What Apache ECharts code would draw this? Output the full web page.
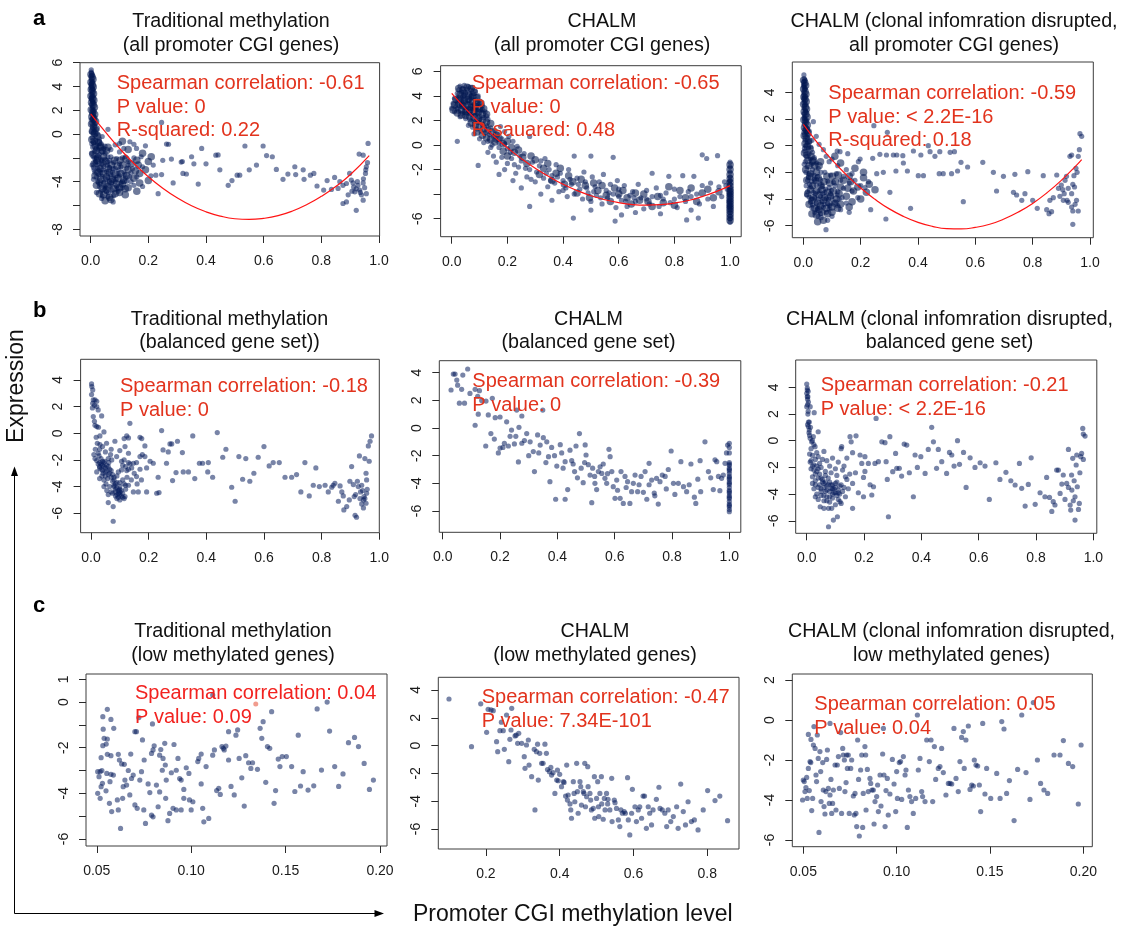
<!DOCTYPE html>
<html><head><meta charset="utf-8">
<script src="https://cdn.jsdelivr.net/npm/echarts@6/dist/echarts.min.js"></script>
<style>html,body{margin:0;padding:0;background:#fff}#c{width:1123px;height:933px}</style>
</head><body><div id="c"></div>
<script>
// ---------------- DATA ----------------
const titlesA = [["Traditional methylation","(all promoter CGI genes)"],["CHALM","(all promoter CGI genes)"],["CHALM (clonal infomration disrupted,","all promoter CGI genes)"]];
const titlesB = [["Traditional methylation","(balanced gene set))"],["CHALM","(balanced gene set)"],["CHALM (clonal infomration disrupted,","balanced gene set)"]];
const titlesC = [["Traditional methylation","(low methylated genes)"],["CHALM","(low methylated genes)"],["CHALM (clonal infomration disrupted,","low methylated genes)"]];
const statsA = [["Spearman correlation: -0.61","P value: 0","R-squared: 0.22"],["Spearman correlation: -0.65","P value: 0","R-sauared: 0.48"],["Spearman correlation: -0.59","P value: < 2.2E-16","R-squared: 0.18"]];
const statsB = [["Spearman correlation: -0.18","P value: 0"],["Spearman correlation: -0.39","P value: 0"],["Spearman correlation: -0.21","P value: < 2.2E-16"]];
const statsC = [["Spearman correlation: 0.04","P value: 0.09"],["Spearman correlation: -0.47","P value: 7.34E-101"],["Spearman correlation: 0.05","P value: 0.04"]];

const xTicks01 = [0,0.2,0.4,0.6,0.8,1.0];
const xTicksLow = [0.05,0.10,0.15,0.20];
const xTicksC2 = [0.2,0.4,0.6,0.8];
const yTicksA1 = [-8,-6,-4,-2,0,2,4,6], yLabelsA1 = [-8,-4,0,2,4,6];
const yTicksA2 = [-6,-4,-2,0,2,4,6], yLabelsA2 = [-6,-2,0,2,4,6];
const yTicks64 = [-6,-4,-2,0,2,4];
const yTicksC1 = [-6,-5,-4,-3,-2,-1,0,1], yLabelsC1 = [-6,-4,-2,0,1];
const yTicksC3 = [-6,-4,-2,0,2];

const fitA1 = [[0,1.70],[0.05,0.21],[0.1,-1.20],[0.15,-2.47],[0.2,-3.58],[0.25,-4.54],[0.3,-5.35],[0.35,-6.02],[0.4,-6.53],[0.45,-6.89],[0.5,-7.11],[0.55,-7.17],[0.6,-7.08],[0.65,-6.85],[0.7,-6.46],[0.75,-5.92],[0.8,-5.23],[0.85,-4.40],[0.9,-3.41],[0.966,-1.80]];
const fitA2 = [[0,4.2],[0.05,2.95],[0.1,1.8],[0.15,0.74],[0.2,-0.23],[0.25,-1.11],[0.3,-1.9],[0.35,-2.59],[0.4,-3.2],[0.45,-3.71],[0.5,-4.13],[0.55,-4.46],[0.6,-4.7],[0.65,-4.85],[0.7,-4.9],[0.75,-4.86],[0.8,-4.73],[0.85,-4.52],[0.9,-4.2],[0.95,-3.8],[1.0,-3.31]];
const fitA3 = [[0,1.59],[0.05,0.19],[0.1,-1.07],[0.15,-2.19],[0.2,-3.18],[0.25,-4.02],[0.3,-4.74],[0.35,-5.31],[0.4,-5.75],[0.45,-6.05],[0.5,-6.22],[0.55,-6.24],[0.6,-6.13],[0.65,-5.89],[0.7,-5.5],[0.75,-4.98],[0.8,-4.33],[0.85,-3.53],[0.9,-2.6],[0.95,-1.53],[0.971,-1.04]];

const ptsA1 = [[0.002,5.4],[0.003,5.1],[0.002,4.9],[0.004,4.7],[0.002,4.5],[0.005,4.3],[0.003,4.1],[0.001,3.9],[0.004,3.7],[0.006,3.5],[0.002,3.3],[0.005,3.1],[0.003,2.9],[0.007,2.7],[0.002,2.5],[0.006,2.3],[0.004,2.1],[0.008,1.9],[0.003,1.7],[0.009,1.5],[0.005,1.3],[0.010,1.1],[0.004,0.9],[0.012,0.7],[0.006,0.5],[0.014,0.3],[0.008,0.1],[0.016,-0.1],[0.005,-0.3],[0.018,-0.5],[0.010,-0.7],[0.022,-0.9],[0.007,-1.1],[0.026,-1.3],[0.013,-1.5],[0.030,-1.7],[0.009,-1.9],[0.035,-2.1],[0.018,-2.3],[0.040,-2.5],
[0.006,4.95],[0.007,4.4],[0.008,3.8],[0.009,3.2],[0.011,2.6],[0.012,2.0],[0.014,1.4],[0.016,0.9],[0.020,0.4],[0.024,0.0],[0.030,-0.4],[0.036,-0.8],[0.045,-1.2],[0.050,-1.6],[0.060,-1.9],
[0.001,4.2],[0.001,3.0],[0.002,1.2],[0.003,0.2],[0.004,-0.8],[0.003,-1.6],[0.002,5.2],[0.004,4.0],[0.006,2.8],[0.01,1.7],
[0.02,-2.0],[0.05,-2.1],[0.07,-1.9],[0.09,-2.05],[0.11,-2.0],[0.015,-2.4],[0.03,-2.45],[0.06,-2.35],[0.08,-2.4],[0.10,-2.5],[0.13,-2.3],
[0.01,-2.8],[0.025,-2.85],[0.045,-2.75],[0.065,-2.8],[0.085,-2.9],[0.105,-2.75],[0.125,-2.85],[0.015,-3.2],[0.035,-3.25],[0.055,-3.15],[0.075,-3.2],[0.095,-3.3],[0.115,-3.15],[0.14,-3.25],
[0.02,-3.6],[0.04,-3.55],[0.06,-3.65],[0.08,-3.6],[0.10,-3.5],[0.12,-3.7],[0.025,-4.0],[0.045,-4.05],[0.065,-3.95],[0.085,-4.0],[0.105,-4.1],[0.125,-3.95],
[0.03,-4.4],[0.05,-4.45],[0.07,-4.35],[0.09,-4.4],[0.11,-4.5],[0.035,-4.8],[0.055,-4.85],[0.075,-4.75],[0.095,-4.8],[0.04,-5.2],[0.06,-5.25],[0.08,-5.15],[0.078,-5.7],[0.038,-5.4],
[0.03,-0.6],[0.04,-0.2],[0.06,0.4],[0.05,-1.0],[0.07,-1.3],[0.085,-0.9],[0.10,-1.5],[0.12,-1.9],[0.13,-2.6],[0.15,-2.0],[0.145,-2.9],[0.16,-3.6],[0.18,-4.4],[0.15,-4.3],[0.02,-4.9],[0.01,-3.8],[0.005,-2.6],
[0.012,-3.0],[0.028,-3.4],[0.042,-3.0],[0.052,-3.8],[0.068,-3.4],[0.072,-4.1],[0.088,-3.8],[0.092,-4.6],[0.032,-4.2],[0.048,-4.6],[0.062,-4.9],[0.022,-2.6],[0.038,-2.2],[0.058,-2.6],[0.078,-2.9],[0.098,-3.0],[0.118,-3.4],[0.135,-3.6],[0.14,-4.0],[0.11,-4.0],[0.018,-1.2],[0.025,-1.8],[0.04,-1.5],[0.065,-2.2],[0.014,-2.0],[0.03,-3.0],
[0.246,0.98],[0.19,-0.98],[0.263,-0.84],[0.27,-0.85],[0.35,-1.9],[0.385,-1.2],[0.434,-1.77],[0.442,-1.75],[0.535,-1.0],[0.598,-1.0],[0.61,-1.8],[0.63,-1.9],[0.575,-2.6],[0.55,-3.0],[0.517,-3.45],[0.508,-3.45],[0.49,-3.9],[0.477,-4.3],[0.448,-3.0],[0.40,-2.5],[0.358,-2.5],[0.332,-3.35],[0.318,-2.3],[0.314,-2.35],[0.28,-2.1],[0.25,-2.2],[0.32,-3.3],[0.286,-4.1],[0.373,-4.2],[0.234,-5.0],[0.209,-3.5],[0.226,-3.45],[0.246,-3.4],[0.217,-2.6],[0.18,-2.74],[0.175,-1.9],[0.159,-1.2],[0.136,-0.64],[0.15,-0.85],[0.115,-1.2],[0.10,-0.8],
[0.708,-2.74],[0.644,-2.97],[0.667,-3.8],[0.684,-3.36],[0.711,-3.4],[0.737,-3.0],[0.74,-3.8],[0.762,-3.45],[0.774,-3.3],[0.785,-4.36],[0.82,-3.9],[0.808,-4.7],[0.835,-4.65],[0.846,-3.64],[0.864,-4.0],[0.858,-4.56],[0.875,-4.3],[0.887,-4.15],[0.904,-3.86],[0.898,-3.3],[0.91,-4.1],[0.875,-5.83],[0.887,-5.7],[0.921,-6.4],[0.931,-1.68],[0.945,-1.77],[0.962,-0.78],[0.956,-2.75],[0.953,-3.3],[0.946,-3.75],[0.945,-4.1],[0.933,-4.7],[0.916,-4.85],[0.927,-4.3],[0.912,-4.45],[0.939,-5.1],[0.956,-5.0],[0.95,-4.5],[0.921,-4.6],[0.906,-4.8],[0.893,-5.1],[0.945,-5.55],[0.954,-3.0],[0.96,-2.4],[0.925,-4.0],[0.935,-4.9]];
const denseA1 = [[0.001,5.0],[0.005,4.8],[0.008,4.6],[0.001,4.35],[0.006,4.15],[0.009,3.95],[0.002,3.75],[0.006,3.6],[0.01,3.4],[0.001,3.2],[0.007,3.0],[0.011,2.85],[0.003,2.65],[0.009,2.45],[0.013,2.25],[0.002,2.05],[0.008,1.85],[0.014,1.65],[0.004,1.45],[0.011,1.25],[0.017,1.05],[0.003,0.85],[0.01,0.65],[0.019,0.45],[0.006,0.25],[0.014,0.05],[0.024,-0.15],[0.004,-0.45],[0.012,-0.6],[0.027,-0.7],[0.016,-1.0],[0.033,-1.1],[0.02,-1.4],[0.04,-1.4],[0.008,-1.7],[0.025,-2.0],[0.045,-1.9],[0.055,-1.4],[0.035,-1.0],[0.06,-1.1],
[0.012,-2.5],[0.022,-2.2],[0.032,-2.9],[0.042,-2.5],[0.052,-2.3],[0.062,-2.9],[0.072,-2.6],[0.082,-2.2],[0.092,-2.7],[0.102,-2.2],[0.112,-2.6],[0.122,-2.1],
[0.015,-3.5],[0.025,-3.2],[0.035,-3.8],[0.045,-3.3],[0.055,-3.6],[0.065,-3.2],[0.075,-3.8],[0.085,-3.4],[0.095,-3.7],[0.105,-3.3],[0.115,-3.9],[0.125,-3.5],
[0.02,-4.3],[0.03,-4.0],[0.04,-4.6],[0.05,-4.2],[0.06,-4.4],[0.07,-4.0],[0.08,-4.6],[0.09,-4.2],[0.1,-4.5],[0.11,-4.2],[0.12,-4.6],
[0.03,-5.0],[0.045,-5.1],[0.055,-4.7],[0.065,-5.3],[0.085,-5.0],[0.1,-4.9],[0.05,-5.6],[0.07,-5.5],
[0.14,-2.5],[0.155,-3.1],[0.165,-2.6],[0.17,-3.3],[0.19,-3.0],[0.2,-2.3],[0.13,-3.0],[0.15,-3.7],[0.17,-4.1],[0.2,-3.9],[0.16,-4.8],[0.13,-4.5],[0.12,-5.1],[0.18,-1.6],[0.21,-1.9],[0.11,-0.6],[0.13,-1.3],[0.16,-2.2]];

const ptsA2 = [[0.03,4.8],[0.045,4.85],[0.06,4.75],[0.075,4.7],[0.025,4.5],[0.04,4.6],[0.055,4.55],[0.07,4.45],[0.085,4.4],[0.02,4.2],[0.035,4.3],[0.05,4.25],[0.065,4.2],[0.08,4.15],[0.095,4.0],
[0.01,3.8],[0.025,3.9],[0.04,3.95],[0.055,3.85],[0.07,3.8],[0.085,3.7],[0.1,3.6],[0.005,3.4],[0.02,3.5],[0.035,3.55],[0.05,3.45],[0.065,3.4],[0.08,3.35],[0.095,3.3],[0.11,3.2],[0.0,3.0],[0.015,3.1],[0.03,3.15],[0.045,3.05],[0.06,3.0],[0.075,2.95],[0.09,2.9],[0.105,2.8],[0.12,2.7],[0.01,2.7],[0.025,2.75],[0.04,2.6],[0.055,2.55],[0.07,2.5],[0.085,2.45],[0.1,2.35],[0.115,2.25],[0.13,2.1],[0.03,2.3],[0.05,2.15],[0.065,2.05],[0.08,1.95],[0.095,1.85],[0.11,1.7],[0.125,1.55],[0.14,1.4],[0.06,1.6],[0.075,1.45],[0.09,1.3],[0.105,1.15],[0.12,1.0],[0.135,0.85],[0.15,0.7],
[0.045,4.05],[0.06,3.6],[0.035,3.3],[0.075,3.15],[0.05,2.85],[0.09,2.6],[0.02,2.95],[0.065,2.7],[0.04,3.7],[0.07,4.0],[0.11,2.9],[0.125,2.35],[0.1,2.05],[0.085,3.0],
[0.02,0.3],[0.08,0.9],[0.1,0.5],[0.115,0.2],[0.13,0.3],[0.145,0.0],[0.16,0.4],[0.17,-0.2],[0.155,1.2],[0.165,0.9],[0.18,0.5],[0.19,0.1],[0.2,-0.3],[0.175,1.5],[0.19,1.1],[0.205,0.7],[0.22,0.3],[0.235,-0.1],[0.095,-1.66],[0.13,-0.6],[0.15,-0.9],[0.16,-1.4],[0.18,-1.0],[0.19,-2.0],[0.2,-1.5],[0.215,-1.1],[0.23,-2.3],[0.24,-1.8],[0.25,-1.3],[0.26,-0.7],[0.27,-2.6],[0.28,-2.0],[0.28,0.7],[0.29,-1.4],[0.3,-3.0],[0.305,-2.2],[0.315,-1.7],[0.33,-2.7],[0.335,-1.1],[0.345,-3.4],[0.35,-2.0],[0.36,-2.5],[0.37,-3.1],[0.375,-1.6],[0.385,-3.8],[0.39,-2.3],[0.4,-2.9],[0.41,-3.5],[0.415,-4.2],[0.42,-2.0],[0.43,-3.2],[0.44,-0.9],[0.44,-4.0],[0.45,-2.7],[0.46,-3.6],[0.47,-4.4],[0.475,-2.2],[0.48,-3.0],[0.49,-3.9],[0.5,-0.9],[0.5,-4.6],[0.505,-2.6],[0.515,-3.4],[0.52,-4.1],[0.53,-3.0],[0.54,-4.8],[0.545,-2.4],[0.555,-3.7],[0.56,-4.3],[0.57,-3.2],[0.58,-1.0],[0.58,-4.0],[0.59,-5.1],[0.595,-2.9],[0.6,-3.6],[0.61,-4.5],[0.62,-3.3],[0.63,-5.0],[0.64,-4.1],[0.65,-3.8],[0.66,-4.6],[0.67,-3.2],[0.68,-4.3],[0.69,-5.2],[0.7,-3.7],[0.71,-4.8],[0.72,-2.3],[0.72,-4.2],[0.735,-3.5],[0.745,-5.0],[0.76,-4.4],[0.77,-3.9],[0.78,-2.55],[0.785,-4.7],[0.8,-3.6],[0.81,-5.1],[0.82,-4.2],[0.83,-2.5],[0.84,-4.6],[0.85,-3.8],[0.86,-5.3],[0.87,-2.55],[0.88,-4.0],[0.89,-4.8],[0.9,-0.8],[0.9,-3.3],[0.916,-1.1],[0.92,-4.4],[0.93,-3.1],[0.94,-5.0],[0.955,-0.87],[0.96,-3.4],[0.97,-4.2],[0.98,-3.0],
[0.14,-0.2],[0.17,0.2],[0.21,-0.6],[0.225,-1.6],[0.245,-0.9],[0.265,-1.9],[0.285,-2.8],[0.32,-1.3],[0.34,-2.3],[0.355,-2.9],[0.38,-2.6],[0.4,-3.7],[0.425,-2.8],[0.455,-3.2],[0.485,-3.5],[0.51,-3.8],[0.535,-4.3],[0.565,-3.9],[0.6,-4.2],[0.625,-4.6],[0.655,-4.3],[0.7,-4.4],[0.75,-4.1],[0.8,-4.4],[0.86,-4.2],
[0.28,-5.0],[0.437,-5.95],[0.587,-6.2],[0.61,-5.7],[0.844,-6.1],[0.886,-5.95],[0.5,-5.3],[0.66,-5.5],[0.75,-5.6],[0.36,-4.5],[0.32,-4.0],[0.25,-3.5],[0.22,-2.9],[0.17,-2.4],
[1,-1.4],[1,-1.8],[1,-2.2],[1,-2.6],[1,-2.9],[1,-3.2],[1,-3.5],[1,-3.7],[1,-3.9],[1,-4.1],[1,-4.3],[1,-4.5],[1,-4.7],[1,-4.9],[1,-5.1],[1,-5.3],[1,-5.5],[1,-5.8],[1,-6.0],[1,-6.3],[0.998,-3.0],[0.998,-4.0],[0.998,-5.0],[0.997,-4.6],[0.99,-3.6],[0.985,-3.3]];
const denseA2 = [[0.025,4.6],[0.04,4.45],[0.055,4.7],[0.07,4.6],[0.08,4.3],[0.03,4.1],[0.045,4.2],[0.06,4.05],[0.075,3.95],[0.09,3.85],[0.015,3.7],[0.03,3.75],[0.045,3.6],[0.06,3.7],[0.075,3.55],[0.09,3.45],[0.105,3.4],[0.01,3.25],[0.025,3.35],[0.04,3.2],[0.055,3.25],[0.07,3.1],[0.085,3.15],[0.1,3.0],[0.115,2.95],[0.005,2.85],[0.02,2.6],[0.035,2.85],[0.05,2.7],[0.065,2.85],[0.08,2.7],[0.095,2.65],[0.11,2.5],[0.125,2.5],[0.035,2.45],[0.05,2.4],[0.065,2.3],[0.08,2.25],[0.095,2.1],[0.11,2.0],[0.125,1.85],[0.14,1.75],[0.07,1.8],[0.085,1.65],[0.1,1.55],[0.115,1.35],[0.13,1.2],[0.145,1.05],[0.16,0.8],[0.09,1.05],[0.11,0.8],[0.125,0.6],[0.14,0.45],[0.155,0.25],[0.17,0.55],[0.185,0.1],[0.2,0.3],[0.215,-0.2],[0.185,-0.5],[0.2,-0.9],[0.225,-0.6],[0.24,-0.4],[0.255,-1.0],[0.27,-1.5],[0.285,-0.9],[0.3,-1.2],[0.315,-2.4],[0.33,-1.9],[0.345,-1.5],[0.36,-2.9],[0.375,-2.3],[0.39,-1.9],[0.405,-3.2],[0.42,-2.5],[0.435,-3.0],[0.45,-3.9],[0.465,-2.8],[0.48,-3.3],[0.495,-4.3],[0.51,-3.1],[0.525,-3.7],[0.54,-3.3],[0.555,-4.1],[0.57,-4.6],[0.585,-3.5],[0.6,-4.0],[0.615,-3.7],[0.63,-4.3],[0.645,-4.8],[0.66,-3.9],[0.675,-4.5],[0.69,-4.0],[0.705,-4.6],[0.72,-5.0],[0.74,-4.2],[0.76,-4.7],[0.78,-3.4],[0.8,-4.9],[0.82,-3.7],[0.84,-4.3],[0.86,-3.5],[0.88,-4.6],[0.9,-3.9],[0.92,-3.6],[0.94,-4.3],[0.96,-3.8],
[1,-1.6],[1,-2.0],[1,-2.4],[1,-2.75],[1,-3.05],[1,-3.35],[1,-3.6],[1,-3.8],[1,-4.0],[1,-4.2],[1,-4.4],[1,-4.6],[1,-4.8],[1,-5.0],[1,-5.2],[1,-5.4],[1,-5.65],[1,-5.9],[1,-6.15]];

const ptsA3 = [[0.002,5.3],[0.003,5.0],[0.002,4.8],[0.004,4.6],[0.002,4.4],[0.005,4.2],[0.003,4.0],[0.001,3.8],[0.004,3.6],[0.006,3.4],[0.002,3.2],[0.005,3.0],[0.003,2.8],[0.007,2.6],[0.002,2.4],[0.006,2.2],[0.004,2.0],[0.008,1.8],[0.003,1.6],[0.009,1.4],[0.005,1.2],[0.011,1.0],[0.004,0.8],[0.013,0.6],[0.006,0.4],[0.015,0.2],[0.008,0.0],[0.018,-0.2],[0.005,-0.4],[0.02,-0.6],[0.01,-0.8],[0.024,-1.0],[0.007,-1.2],[0.028,-1.4],[0.013,-1.6],[0.032,-1.8],[0.009,-2.0],[0.037,-2.2],[0.018,-2.4],[0.042,-2.6],
[0.006,4.9],[0.007,4.3],[0.008,3.7],[0.009,3.1],[0.011,2.5],[0.012,1.9],[0.014,1.3],[0.017,0.8],[0.021,0.3],[0.026,-0.1],[0.032,-0.5],[0.038,-0.9],[0.046,-1.3],[0.052,-1.7],[0.062,-2.0],[0.001,4.5],[0.002,3.5],[0.003,2.1],[0.002,1.0],[0.004,-0.2],[0.003,-1.4],
[0.035,1.8],[0.02,1.1],[0.045,0.7],[0.03,0.4],[0.055,0.1],[0.07,-0.3],[0.08,-0.8],[0.09,-1.2],[0.1,-1.0],
[0.02,-2.1],[0.05,-2.3],[0.075,-2.0],[0.095,-2.2],[0.115,-2.1],[0.015,-2.6],[0.03,-2.7],[0.06,-2.55],[0.085,-2.65],[0.105,-2.75],[0.13,-2.6],
[0.01,-3.0],[0.025,-3.1],[0.045,-2.95],[0.065,-3.05],[0.09,-3.15],[0.11,-3.0],[0.14,-3.2],[0.015,-3.45],[0.035,-3.5],[0.055,-3.4],[0.075,-3.5],[0.095,-3.6],[0.12,-3.45],
[0.02,-3.85],[0.04,-3.9],[0.06,-3.8],[0.08,-3.95],[0.1,-3.85],[0.125,-4.0],[0.025,-4.25],[0.045,-4.3],[0.065,-4.2],[0.085,-4.35],[0.11,-4.25],
[0.03,-4.65],[0.05,-4.7],[0.07,-4.6],[0.09,-4.75],[0.12,-4.5],[0.04,-5.0],[0.06,-5.1],[0.08,-5.0],[0.052,-5.3],[0.062,-5.4],[0.079,-6.3],[0.1,-5.3],
[0.012,-3.7],[0.028,-4.0],[0.042,-3.6],[0.052,-4.0],[0.068,-3.6],[0.072,-4.4],[0.088,-4.0],[0.092,-4.5],[0.032,-4.45],[0.048,-4.8],[0.022,-2.9],[0.038,-2.5],[0.058,-2.85],[0.078,-3.25],[0.098,-3.35],[0.118,-3.7],[0.135,-3.9],[0.15,-4.3],[0.14,-2.3],[0.16,-2.8],[0.17,-3.4],[0.18,-2.6],[0.19,-3.9],[0.2,-3.0],[0.12,-1.5],[0.15,-1.8],[0.17,-2.1],[0.13,-4.8],[0.16,-5.0],[0.085,-5.6],
[0.246,1.5],[0.293,1.0],[0.326,-0.7],[0.349,-1.3],[0.128,-0.45],[0.118,-0.4],[0.155,-0.6],[0.198,-1.0],[0.192,-1.2],[0.242,-0.95],[0.267,-0.65],[0.29,-0.7],[0.314,-0.7],[0.347,-0.75],[0.384,-0.4],[0.41,-0.7],[0.436,0.0],[0.442,-0.45],[0.459,-0.8],[0.476,-0.45],[0.512,-0.5],[0.527,-0.45],
[0.256,-2.1],[0.279,-2.0],[0.323,-1.9],[0.363,-1.9],[0.401,-2.25],[0.419,-2.25],[0.474,-2.1],[0.488,-2.1],[0.517,-2.1],[0.538,-1.9],[0.573,-1.6],[0.55,-1.25],[0.626,-1.25],[0.663,-2.0],[0.698,-2.3],[0.738,-2.15],[0.783,-1.95],[0.837,-2.25],
[0.302,-3.5],[0.215,-3.15],[0.227,-2.7],[0.374,-4.7],[0.235,-4.8],[0.288,-5.5],[0.558,-4.2],[0.674,-3.4],[0.733,-3.5],[0.744,-3.7],[0.773,-3.6],[0.762,-4.1],[0.8,-4.1],[0.816,-4.7],[0.86,-4.1],[0.849,-4.8],[0.857,-5.1],[0.872,-3.9],[0.884,-2.2],[0.9,-2.95],[0.913,-2.6],[0.918,-2.3],[0.924,-3.2],[0.936,-3.6],[0.944,-2.25],[0.94,-2.9],[0.951,-1.7],[0.959,-0.8],[0.963,-0.3],[0.965,0.9],[0.971,0.7],[0.93,-0.8],[0.936,-0.7],[0.907,-4.1],[0.924,-4.25],[0.936,-4.6],[0.948,-4.4],[0.953,-4.1],[0.94,-4.9],[0.94,-5.9],[0.959,-4.9],[0.895,-3.8],[0.91,-3.6],[0.92,-4.1],[0.866,-4.95],[0.89,-3.2],[0.905,-3.3],[0.946,-3.1],[0.955,-2.0]];
const denseA3 = [[0.001,4.9],[0.005,4.7],[0.008,4.5],[0.001,4.25],[0.006,4.05],[0.009,3.85],[0.002,3.65],[0.006,3.5],[0.01,3.3],[0.001,3.1],[0.007,2.9],[0.011,2.75],[0.003,2.55],[0.009,2.35],[0.013,2.15],[0.002,1.95],[0.008,1.75],[0.014,1.55],[0.004,1.35],[0.011,1.15],[0.017,0.95],[0.003,0.75],[0.01,0.55],[0.019,0.35],[0.006,0.15],[0.014,-0.05],[0.024,-0.25],[0.004,-0.55],[0.012,-0.7],[0.027,-0.8],[0.016,-1.1],[0.033,-1.2],[0.02,-1.5],[0.04,-1.5],[0.008,-1.8],[0.025,-2.1],[0.045,-2.0],[0.055,-1.5],[0.035,-1.1],[0.06,-1.2],
[0.012,-2.6],[0.022,-2.3],[0.032,-3.0],[0.042,-2.6],[0.052,-2.4],[0.062,-3.0],[0.072,-2.7],[0.082,-2.3],[0.092,-2.8],[0.102,-2.3],[0.112,-2.7],[0.122,-2.2],
[0.015,-3.6],[0.025,-3.3],[0.035,-3.9],[0.045,-3.4],[0.055,-3.7],[0.065,-3.3],[0.075,-3.9],[0.085,-3.5],[0.095,-3.8],[0.105,-3.4],[0.115,-4.0],[0.125,-3.6],
[0.02,-4.4],[0.03,-4.1],[0.04,-4.7],[0.05,-4.3],[0.06,-4.5],[0.07,-4.1],[0.08,-4.7],[0.09,-4.3],[0.1,-4.6],[0.11,-4.3],[0.12,-4.7],
[0.03,-5.1],[0.045,-5.2],[0.055,-4.8],[0.065,-5.0],[0.085,-5.1],[0.1,-5.0],[0.05,-5.7],[0.07,-5.6],
[0.14,-2.6],[0.155,-3.2],[0.165,-2.7],[0.175,-3.4],[0.19,-3.1],[0.21,-2.4],[0.13,-3.1],[0.15,-3.8],[0.17,-4.2],[0.2,-4.0],[0.16,-4.6],[0.13,-4.4],[0.22,-3.5],[0.18,-1.7],[0.21,-2.0],[0.11,-0.8],[0.13,-1.3],[0.16,-2.3],[0.23,-2.9],[0.25,-3.3]];

const ptsB1 = [[0.002,3.7],[0.003,3.5],[0.006,3.25],[0.002,2.9],[0.008,2.5],[0.006,2.25],[0.012,2.1],[0.014,2.5],[0.02,2.4],[0.02,2.0],[0.008,1.25],[0.025,1.75],[0.037,1.3],[0.014,0.6],[0.02,0.5],[0.026,0.45],[0.045,0.1],[0.031,-0.2],[0.022,-0.75],[0.031,-0.85],[0.03,-1.2],[0.014,-1.9],[0.02,-2.05],[0.03,-2.2],
[0.025,-1.5],[0.04,-1.0],[0.05,-1.4],[0.054,-0.75],[0.06,-1.9],[0.07,-1.2],[0.083,-0.6],[0.089,-1.75],[0.1,-1.3],[0.118,-1.0],[0.13,-1.5],[0.106,-2.1],[0.106,-2.75],[0.124,-2.8],[0.141,-2.6],[0.147,-2.25],[0.158,-2.2],[0.17,-1.75],[0.187,-1.75],[0.178,-1.6],[0.158,-3.25],[0.147,-4.4],[0.164,-4.4],[0.193,-4.4],[0.118,-4.75],[0.1,-5.0],[0.06,-5.2],[0.077,-5.5],[0.077,-6.6],
[0.03,-2.6],[0.035,-2.3],[0.04,-2.8],[0.045,-2.5],[0.05,-2.9],[0.055,-2.4],[0.06,-3.1],[0.065,-2.7],[0.07,-3.3],[0.038,-3.2],[0.045,-3.5],[0.052,-3.8],[0.058,-3.4],[0.048,-2.1],[0.062,-2.2],[0.072,-2.0],[0.068,-1.6],
[0.075,-3.6],[0.08,-3.9],[0.085,-4.2],[0.09,-3.7],[0.095,-4.5],[0.1,-4.0],[0.105,-4.3],[0.11,-4.8],[0.115,-3.8],[0.12,-4.2],[0.085,-4.7],[0.09,-4.9],[0.1,-4.6],[0.11,-3.5],[0.125,-3.3],[0.13,-3.9],[0.135,-2.3],[0.14,-3.5],[0.075,-4.5],[0.08,-3.3],[0.065,-4.0],[0.07,-4.4],[0.055,-4.3],[0.06,-4.6],[0.045,-4.0],[0.09,-3.2],[0.095,-2.9],[0.12,-2.5],[0.115,-2.0],[0.13,-2.2],[0.15,-3.0],[0.16,-3.8],[0.17,-2.7],[0.175,-3.5],
[0.135,0.75],[0.115,-0.4],[0.124,-0.2],[0.13,-0.35],[0.17,-0.3],[0.176,-0.4],[0.187,-0.95],[0.245,0.2],[0.25,-1.25],[0.274,-0.8],[0.28,-0.8],[0.268,-1.4],[0.3,-0.6],[0.317,-1.45],[0.262,-2.25],[0.295,-2.95],[0.32,-2.9],[0.338,-2.9],[0.283,-3.55],[0.233,-3.3],[0.228,-4.5],[0.236,-4.45],[0.216,-2.25],[0.205,-2.1],[0.193,-2.6],[0.353,-0.2],[0.36,-3.4],[0.376,-2.25],[0.387,-2.25],[0.407,-2.2],[0.405,-2.9],[0.422,-3.3],[0.438,0.05],[0.457,-1.8],[0.468,-1.2],[0.488,-4.05],[0.5,-5.1],[0.513,-1.75],[0.526,-3.45],[0.537,-1.9],[0.551,-3.6],[0.565,-3.0],[0.58,-1.8],[0.6,-1.0],[0.618,-2.45],[0.632,-2.2],[0.653,-2.2],[0.673,-3.3],[0.696,-3.3],[0.713,-3.1],[0.728,-4.4],[0.742,-2.2],[0.757,-4.7],[0.771,-3.9],[0.78,-2.6],[0.792,-4.0],[0.812,-3.9],[0.823,-4.4],[0.835,-4.05],[0.84,-3.9],[0.846,-3.75],[0.858,-5.1],[0.864,-3.95],[0.87,-4.4],[0.875,-4.7],[0.877,-5.75],[0.887,-5.5],[0.896,-5.0],[0.898,-3.6],[0.904,-2.5],[0.91,-3.85],[0.913,-4.75],[0.918,-4.6],[0.924,-3.6],[0.927,-4.0],[0.931,-1.7],[0.935,-4.4],[0.939,-3.9],[0.942,-4.3],[0.945,-5.6],[0.947,-4.75],[0.95,-1.9],[0.954,-3.0],[0.956,-3.5],[0.956,-4.5],[0.958,-4.2],[0.962,-0.95],[0.965,-2.1],[0.968,-0.6],[0.973,-0.2],[0.921,-6.3],[0.916,-6.15],[0.939,-5.3],[0.945,-5.0],[0.933,-4.9],[0.95,-4.9],[0.954,-5.25]];
const denseB1 = [[0.025,-2.3],[0.03,-2.5],[0.035,-2.7],[0.04,-2.4],[0.045,-2.2],[0.05,-2.6],[0.055,-2.8],[0.035,-1.9],[0.04,-2.1],[0.028,-1.7],[0.06,-2.5],[0.065,-3.0],[0.05,-3.2],[0.042,-3.0],[0.03,-3.4],[0.02,-2.9],[0.07,-2.8],[0.075,-3.1],[0.08,-3.5],[0.085,-3.8],[0.09,-4.1],[0.095,-4.3],[0.1,-4.4],[0.105,-4.7],[0.09,-4.6],[0.1,-4.2],[0.11,-4.5],[0.095,-4.8],[0.085,-4.4],[0.08,-4.0],[0.115,-4.9],[0.1,-3.7],[0.12,-3.9],[0.13,-2.7],[0.11,-2.4],[0.01,-1.6],[0.015,-1.2],[0.005,1.9],[0.012,0.9],[0.018,-0.3]];

const ptsB2 = [[0.037,3.9],[0.043,3.9],[0.087,4.27],[0.029,2.75],[0.052,3.1],[0.066,2.8],[0.049,3.47],[0.07,3.83],[0.058,1.8],[0.076,1.8],[0.095,2.5],[0.113,2.8],[0.122,2.3],[0.128,2.7],[0.136,2.0],[0.151,1.95],[0.113,0.2],[0.124,1.0],[0.15,-1.3],[0.159,0.95],[0.168,-0.4],[0.173,2.15],[0.18,-0.8],[0.183,0.75],[0.194,-1.8],[0.21,-1.4],[0.2,0.8],[0.223,0.45],[0.24,-0.15],[0.229,-1.3],[0.235,-0.6],[0.258,1.3],[0.266,0.05],[0.276,0.87],[0.25,-1.15],[0.264,-2.45],[0.276,-1.1],[0.293,-0.4],[0.305,-1.0],[0.316,-1.7],[0.32,-3.15],[0.331,-0.5],[0.34,-1.23],[0.349,1.3],[0.351,-0.7],[0.363,-1.0],[0.369,-2.07],[0.374,-3.88],[0.39,-2.0],[0.398,-2.75],[0.394,-5.15],[0.41,-1.2],[0.415,-1.8],[0.427,-5.15],[0.427,-2.43],[0.436,-4.45],[0.444,-1.6],[0.45,-2.36],[0.46,-3.15],[0.465,-1.3],[0.477,-0.4],[0.483,-2.9],[0.49,-3.95],[0.497,-1.22],[0.5,-1.95],[0.508,-2.65],[0.514,-3.4],[0.52,-5.4],[0.523,-2.9],[0.531,-4.0],[0.537,-4.45],[0.543,-3.15],[0.549,-2.8],[0.555,-3.28],[0.566,-3.64],[0.572,-4.0],[0.58,-1.54],[0.584,-2.07],[0.59,-3.15],[0.595,-4.24],[0.601,-5.08],[0.607,-3.76],[0.619,-5.08],[0.622,-3.15],[0.63,-5.45],[0.636,-3.5],[0.645,-3.88],[0.653,-5.45],[0.659,-4.6],[0.665,-4.0],[0.671,-3.4],[0.685,-4.1],[0.692,-3.5],[0.7,-4.65],[0.706,-3.15],[0.712,-5.15],[0.72,-2.55],[0.729,-3.76],[0.738,-4.7],[0.746,-3.64],[0.752,-5.5],[0.758,-3.88],[0.766,-3.4],[0.776,-3.5],[0.787,-3.0],[0.797,-1.66],[0.805,-4.0],[0.822,-4.0],[0.831,-2.43],[0.84,-4.24],[0.851,-4.6],[0.866,-2.6],[0.878,-5.0],[0.883,-5.45],[0.89,-3.7],[0.898,-2.36],[0.915,-1.0],[0.927,-3.15],[0.944,-4.45],[0.95,-2.3],[0.956,-2.43],[0.962,-3.5],[0.967,-4.53],[0.973,-3.64],[0.979,-3.4],[0.985,-2.55],[0.99,-1.8],[0.994,-1.23],
[0.2,-1.45],[0.215,-1.1],[0.255,-0.6],[0.285,-0.9],[0.3,-2.0],[0.335,-1.8],[0.36,-2.5],[0.38,-1.4],[0.42,-2.9],[0.455,-2.6],[0.47,-3.6],[0.495,-2.5],[0.53,-3.5],[0.56,-2.6],[0.575,-3.3],[0.61,-4.5],[0.64,-4.3],[0.68,-4.6],[0.72,-4.1],[0.74,-4.9],[0.78,-4.4],[0.81,-4.8],[0.86,-4.1],[0.9,-4.6],[0.935,-3.6],
[1,-1.1],[1,-1.4],[1,-1.8],[1,-2.5],[1,-2.7],[1,-2.9],[1,-3.1],[1,-3.3],[1,-3.5],[1,-3.7],[1,-3.9],[1,-4.1],[1,-4.3],[1,-4.5],[1,-4.7],[1,-4.9],[1,-5.1],[1,-5.3],[1,-5.5],[1,-5.7],[1,-5.9],[1,-6.05],[1,-3.0],[1,-4.0],[1,-5.0],[1,-2.6],[1,-3.6],[1,-4.6],[1,-5.6]];

const ptsB3 = [[0.0,4.25],[0.002,3.8],[0.0,3.55],[0.004,3.3],[0.006,2.9],[0.0,2.55],[0.012,2.55],[0.026,2.1],[0.009,1.4],[0.006,1.05],[0.009,0.8],[0.04,0.67],[0.023,0.3],[0.012,0.18],[0.017,-0.08],[0.029,-0.45],[0.035,-0.9],[0.002,3.95],[0.003,3.1],[0.005,2.2],[0.003,1.2],[0.01,0.4],[0.02,0.0],[0.242,1.67],
[0.015,-0.6],[0.02,-1.1],[0.03,-1.4],[0.025,-1.8],[0.04,-1.2],[0.045,-1.7],[0.015,-2.1],[0.035,-2.3],[0.05,-2.0],[0.055,-1.4],[0.06,-0.8],[0.07,-1.5],[0.065,-2.3],[0.08,-1.9],[0.09,-1.3],[0.1,-2.1],[0.11,-1.6],[0.12,-0.6],[0.122,-0.45],[0.13,-1.9],[0.14,-1.3],[0.151,0.3],[0.155,-0.08],[0.172,0.37],[0.16,-0.9],
[0.02,-2.7],[0.03,-3.0],[0.04,-2.8],[0.045,-3.3],[0.05,-3.6],[0.055,-2.9],[0.06,-3.2],[0.065,-3.8],[0.07,-3.4],[0.075,-2.8],[0.08,-3.1],[0.085,-3.6],[0.09,-3.3],[0.095,-3.9],[0.1,-3.5],[0.105,-3.1],[0.11,-3.7],[0.115,-4.0],[0.12,-3.3],[0.125,-3.8],[0.13,-3.5],[0.135,-4.2],[0.14,-2.9],[0.145,-3.6],[0.15,-2.5],[0.16,-3.2],[0.17,-2.4],[0.18,-3.9],[0.035,-4.0],[0.04,-4.4],[0.05,-4.1],[0.06,-4.5],[0.07,-4.2],[0.08,-4.6],[0.09,-4.3],[0.1,-4.8],[0.11,-4.4],[0.12,-4.7],[0.047,-4.95],[0.06,-5.07],[0.076,-5.07],[0.087,-5.07],[0.116,-4.57],[0.025,-3.6],[0.03,-4.2],[0.065,-2.6],[0.085,-2.4],[0.105,-2.6],[0.125,-2.2],[0.135,-2.7],
[0.203,-1.2],[0.192,-1.7],[0.186,-1.07],[0.215,-1.7],[0.203,-2.3],[0.198,-2.75],[0.238,-1.7],[0.25,-1.57],[0.221,-3.3],[0.233,-3.45],[0.227,-4.07],[0.198,-4.2],[0.16,-5.07],[0.107,-5.7],[0.093,-5.95],[0.076,-6.45],
[0.262,-0.08],[0.273,-0.15],[0.277,-1.57],[0.281,-2.9],[0.29,0.3],[0.285,-5.7],[0.3,-2.32],[0.31,-0.95],[0.314,-2.07],[0.323,-2.07],[0.331,-2.65],[0.34,-0.25],[0.349,-0.33],[0.358,-2.4],[0.372,-4.2],[0.378,-1.07],[0.386,-2.0],[0.398,-1.2],[0.413,-2.45],[0.424,-0.65],[0.436,1.0],[0.442,-0.08],[0.453,-2.07],[0.459,-0.65],[0.471,-1.57],[0.488,-2.45],[0.498,-0.88],[0.506,-1.07],[0.514,-1.9],[0.526,0.0],[0.533,-1.77],[0.547,-0.88],[0.556,-3.5],[0.57,-1.28],[0.587,-2.0],[0.605,-1.65],[0.622,-1.9],[0.637,-4.4],[0.66,-1.65],[0.674,-2.9],[0.695,-2.37],[0.712,-3.0],[0.727,-3.32],[0.742,-1.7],[0.75,-3.57],[0.762,-4.9],[0.783,-1.28],[0.773,-3.28],[0.797,-4.77],[0.814,-3.9],[0.831,-4.2],[0.837,-2.75],[0.847,-4.25],[0.855,-5.3],[0.86,-4.57],[0.866,-4.82],[0.872,-2.2],[0.878,-2.2],[0.884,-3.95],[0.89,-3.25],[0.895,-2.57],[0.901,-4.4],[0.907,-3.2],[0.913,-3.5],[0.913,-0.65],[0.919,-4.82],[0.921,-5.2],[0.924,-2.57],[0.928,-1.32],[0.933,-3.0],[0.936,-4.2],[0.94,-1.82],[0.942,-1.07],[0.944,-3.45],[0.948,-5.15],[0.951,-4.7],[0.953,-2.4],[0.956,-1.2],[0.959,-0.95],[0.963,0.92],[0.965,0.5],[0.971,0.35],[0.965,-1.4],[0.936,-5.95],[0.925,-3.7],[0.93,-4.5]];
const denseB3 = [[0.015,-1.5],[0.02,-1.9],[0.025,-2.2],[0.03,-2.5],[0.035,-1.9],[0.04,-2.1],[0.045,-2.5],[0.05,-2.8],[0.055,-3.1],[0.06,-3.5],[0.065,-3.1],[0.07,-3.7],[0.075,-3.3],[0.08,-3.8],[0.085,-3.3],[0.09,-4.0],[0.095,-3.6],[0.1,-3.9],[0.105,-4.1],[0.11,-3.9],[0.115,-3.4],[0.1,-3.2],[0.09,-3.6],[0.08,-4.2],[0.07,-4.5],[0.06,-4.1],[0.05,-3.8],[0.04,-3.5],[0.03,-3.3],[0.02,-3.2],[0.01,-1.0],[0.012,-1.6],[0.008,0.6],[0.006,1.4],[0.004,2.0],[0.002,3.3],[0.005,3.7],[0.003,2.7],[0.013,1.0],[0.025,-0.3]];

const ptsC1 = [[0.0556,-0.32],[0.0532,-0.64],[0.0575,-0.76],[0.059,-1.15],[0.0534,-1.19],[0.0556,-1.62],[0.0539,-1.59],[0.055,-1.84],[0.0532,-1.91],[0.0523,-2.44],[0.0556,-2.29],[0.0575,-2.35],[0.0614,-2.29],[0.062,-2.54],[0.0632,-2.71],[0.0646,-2.73],[0.068,-2.28],[0.0702,-1.3],[0.071,-1.3],[0.0723,-0.68],[0.0742,-1.66],[0.0751,-2.54],[0.0737,-3.05],[0.079,-2.25],[0.0798,-2.1],[0.0795,-0.96],[0.0804,-1.92],[0.0833,-2.33],[0.0839,-2.08],[0.0847,-2.99],[0.0851,-2.47],[0.0863,-2.76],[0.0868,-3.42],[0.086,-1.81],[0.0909,-1.86],[0.0895,-3.1],[0.0921,-2.99],[0.093,-2.47],[0.0947,-3.42],[0.0939,-3.35],[0.0961,-4.22],[0.0974,-2.88],[0.0988,-3.13],[0.0991,-4.29],[0.1,-4.73],[0.1009,-4.37],[0.1035,-2.61],[0.104,-2.47],[0.1053,-2.28],[0.1053,-3.59],[0.1079,-2.83],[0.1061,-4.66],[0.1093,-5.1],[0.1067,-5.25],[0.1114,-2.33],[0.1123,-2.1],[0.1114,0.31],[0.1135,-3.88],[0.1146,-3.78],[0.1154,-4.05],[0.1163,-1.95],[0.117,-2.03],[0.1184,-1.93],[0.1175,-2.1],[0.1198,-1.3],[0.1198,-2.54],[0.1211,-3.7],[0.1228,-4.07],[0.1237,-1.45],[0.1246,-1.22],[0.1254,-2.47],[0.1268,-3.32],[0.1281,-4.56],[0.1289,-2.35],[0.1304,-2.66],[0.1316,-2.91],[0.1325,-2.66],[0.1351,-2.95],[0.1365,-1.15],[0.1374,-1.59],[0.1381,-0.86],[0.1395,-3.52],[0.1404,-1.95],[0.1416,-2.03],[0.1426,-0.42],[0.1439,-4.44],[0.1447,-3.88],[0.1461,-2.5],[0.147,-2.83],[0.1482,-2.39],[0.1504,-2.39],[0.1532,-2.83],[0.1549,-3.92],[0.1567,-1.45],[0.1579,-3.68],[0.1593,-3.05],[0.1619,-3.86],[0.1649,-3.67],[0.1667,-0.3],[0.169,-2.98],[0.172,0.0],[0.1733,-1.27],[0.176,-2.83],[0.1781,-3.7],[0.1804,-3.15],[0.1833,-1.78],[0.1865,-1.55],[0.1886,-1.95],[0.1916,-2.69],[0.1944,-3.83],[0.1965,-3.42],
[0.0505,-3.05],[0.0518,-3.05],[0.0512,-3.27],[0.0527,-3.0],[0.0553,-3.13],[0.0575,-3.17],[0.0588,-3.2],[0.053,-3.56],[0.0523,-3.71],[0.0505,-4.0],[0.0518,-4.22],[0.0549,-3.89],[0.057,-3.49],[0.0567,-4.44],[0.0579,-4.8],[0.0609,-4.29],[0.0614,-4.73],[0.0626,-5.54],[0.0637,-4.22],[0.064,-3.71],[0.0649,-3.42],[0.0658,-3.64],[0.0667,-3.0],[0.0675,-4.07],[0.0684,-3.35],[0.0693,-3.2],[0.0702,-4.51],[0.0714,-4.66],[0.0728,-3.42],[0.0749,-4.73],[0.0758,-5.32],[0.0772,-3.59],[0.0781,-3.97],[0.079,-4.96],[0.0798,-5.03],[0.0816,-3.64],[0.0825,-4.59],[0.0833,-3.94],[0.0865,-4.22],[0.0877,-5.2],[0.0886,-4.88],[0.0904,-4.66],[0.0921,-4.73],[0.0947,-4.73],[0.0961,-3.83]];
const ptsC1Highlight = [[0.1342,-0.08]];

const ptsC2 = [[0.1,3.35],[0.161,-0.08],[0.186,3.0],[0.206,2.61],[0.214,2.56],[0.22,2.51],[0.202,0.95],[0.229,0.28],[0.232,-0.44],[0.238,1.07],[0.242,1.68],[0.25,-0.27],[0.247,1.07],[0.256,2.2],[0.265,0.45],[0.268,1.12],[0.262,-1.16],[0.27,2.68],[0.279,0.69],[0.282,0.75],[0.286,0.16],[0.289,0.88],[0.297,0.16],[0.304,-0.8],[0.306,-1.64],[0.31,0.04],[0.315,0.4],[0.317,-1.4],[0.324,-2.24],[0.331,-0.27],[0.333,-4.63],[0.337,-0.44],[0.342,-2.48],[0.34,0.1],[0.346,-0.56],[0.351,-1.28],[0.355,-1.28],[0.36,0.1],[0.364,-0.56],[0.367,-1.72],[0.372,-1.88],[0.376,-1.57],[0.378,-2.12],[0.382,-1.95],[0.387,-3.44],[0.392,-2.48],[0.394,-1.76],[0.396,-2.53],[0.4,-2.07],[0.405,-2.96],[0.41,-2.6],[0.412,-2.65],[0.416,-3.63],[0.419,-1.4],[0.421,-3.92],[0.423,-3.56],[0.428,-4.2],[0.43,-4.63],[0.432,-5.23],[0.437,-2.6],[0.439,-3.44],[0.441,-4.04],[0.446,-1.28],[0.448,-3.32],[0.45,-4.87],[0.455,-2.6],[0.457,-2.96],[0.459,-4.28],[0.464,-3.32],[0.466,-3.44],[0.468,-1.28],[0.47,-4.4],[0.473,-3.68],[0.476,-1.52],[0.477,-2.96],[0.482,-3.44],[0.484,-3.92],[0.486,-4.63],[0.491,-4.52],[0.494,-2.24],[0.495,-5.23],[0.5,-3.8],[0.503,-2.6],[0.505,-4.4],[0.506,-5.11],[0.509,-3.44],[0.513,-2.24],[0.514,-4.2],[0.518,-5.3],[0.521,-3.8],[0.523,-4.63],[0.527,-3.44],[0.53,-4.2],[0.531,-3.87],[0.536,-4.63],[0.541,-2.36],[0.542,-5.47],[0.548,-3.92],[0.55,-4.11],[0.554,-4.52],[0.559,-5.35],[0.563,-5.83],[0.566,-4.63],[0.57,-4.87],[0.575,-4.75],[0.578,-4.87],[0.584,-2.31],[0.586,-5.35],[0.59,-6.43],[0.595,-4.87],[0.597,-3.15],[0.604,-4.4],[0.608,-5.47],[0.613,-4.63],[0.617,-4.4],[0.622,-5.23],[0.626,-3.63],[0.63,-3.63],[0.635,-5.95],[0.64,-4.4],[0.644,-4.87],[0.649,-5.71],[0.653,-4.63],[0.662,-3.87],[0.669,-3.0],[0.672,-4.52],[0.678,-4.63],[0.685,-4.87],[0.69,-5.83],[0.694,-4.63],[0.701,-5.47],[0.708,-5.11],[0.717,-4.4],[0.721,-5.95],[0.728,-2.77],[0.735,-4.75],[0.741,-5.71],[0.748,-4.04],[0.757,-5.47],[0.765,-5.35],[0.775,-6.07],[0.789,-4.63],[0.801,-3.24],[0.821,-3.96],[0.834,-3.63],[0.855,-5.4]];

const ptsC3 = [[0.0496,-4.0],[0.05,-3.0],[0.0505,-3.08],[0.0509,-3.58],[0.0514,-3.38],[0.0518,-2.87],[0.0521,-3.92],[0.0527,-2.42],[0.0527,-0.72],[0.0532,-3.53],[0.0536,-2.08],[0.054,-2.13],[0.0541,-0.97],[0.0545,-4.53],[0.055,-3.92],[0.0554,-1.25],[0.0557,-0.33],[0.0563,-1.42],[0.0568,-2.75],[0.0571,-3.08],[0.0575,-0.75],[0.058,-1.92],[0.0584,-5.62],[0.0589,-1.58],[0.0593,-2.58],[0.0595,-4.08],[0.0604,-2.13],[0.0607,-3.5],[0.0611,-4.33],[0.0616,-4.7],[0.0621,-3.58],[0.0625,-1.97],[0.0629,-1.5],[0.0634,-3.42],[0.0639,-4.17],[0.0643,-3.75],[0.0643,-0.17],[0.0648,-2.97],[0.0652,-4.67],[0.0657,-4.17],[0.0661,-3.5],[0.067,-2.25],[0.0675,-4.5],[0.0682,-2.25],[0.0688,-1.83],[0.0693,-3.42],[0.07,-0.63],[0.0705,-4.67],[0.0711,-1.42],[0.0714,-1.75],[0.072,-2.0],[0.0723,-3.58],[0.0729,-3.13],[0.0732,-1.75],[0.0736,-2.42],[0.0741,-1.75],[0.0746,-4.67],[0.0754,-2.42],[0.0759,-2.0],[0.0768,-3.8],[0.0773,-4.75],[0.0777,-3.67],[0.0782,-4.67],[0.0786,-5.33],[0.0791,-1.0],[0.0796,-2.97],[0.08,-5.8],[0.0807,-2.5],[0.0813,-1.75],[0.0818,-5.37],[0.0821,-3.67],[0.083,-1.33],[0.0834,-1.75],[0.0836,-4.5],[0.0843,-2.47],[0.0848,-3.58],[0.0857,-2.92],[0.0861,-3.17],[0.0868,-3.5],[0.0875,-3.5],[0.0879,-5.2],[0.0884,-4.08],[0.0893,-3.83],[0.0898,-3.25],[0.0902,-4.58],[0.0911,-2.75],[0.0916,-4.3],[0.0925,-1.7],[0.0929,-0.42],[0.0932,-2.75],[0.0938,-5.33],[0.0943,-3.53],[0.095,-2.92],[0.0955,-4.75],[0.0964,-3.7],[0.0977,-1.97],[0.0986,-3.2],[0.0995,-4.58],[0.1,-2.58],[0.1004,-3.92],[0.1014,-2.13],[0.1021,-2.08],[0.1027,-3.97],[0.1036,-1.83],[0.1045,-2.75],[0.105,-2.5],[0.1057,-5.37],[0.1063,-3.5],[0.1071,-3.83],[0.108,-4.08],[0.1089,-4.67],[0.1102,-3.92],[0.1111,0.25],[0.1116,-2.5],[0.1125,-1.92],[0.1134,-3.58],[0.1139,-3.83],[0.1152,-4.08],[0.1161,-1.0],[0.1175,-2.08],[0.1184,-1.0],[0.1193,-4.08],[0.1202,-1.33],[0.1209,-2.97],[0.1223,-2.42],[0.1232,-2.33],[0.1241,-1.42],[0.125,-2.63],[0.1264,-3.75],[0.1277,-3.17],[0.1286,-3.17],[0.1295,-3.2],[0.1307,-0.42],[0.1318,-2.92],[0.133,-3.58],[0.1339,-2.08],[0.1348,-0.87],[0.1357,-0.58],[0.1362,-2.42],[0.1371,-1.0],[0.1384,-0.3],[0.1393,-3.47],[0.1402,-3.25],[0.1411,-3.3],[0.1416,-2.0],[0.1425,-2.25],[0.1434,-2.3],[0.1443,-3.25],[0.145,-4.58],[0.1461,-0.17],[0.1473,-3.7],[0.1482,-2.42],[0.1504,-3.92],[0.1536,-2.67],[0.1554,-3.92],[0.1563,-0.08],[0.1575,-0.45],[0.1589,-3.67],[0.1604,-3.03],[0.1629,-5.03],[0.1648,-2.47],[0.167,0.25],[0.1693,-2.63],[0.1714,-3.97],[0.1732,0.87],[0.1754,-2.0],[0.1771,-3.17],[0.1789,-3.5],[0.1809,-3.67],[0.1843,-1.75],[0.1875,-1.75],[0.1893,-1.03],[0.192,-2.17],[0.1943,-2.33],[0.1973,-4.2],[0.1988,-1.25]];

// ---------------- LAYOUT / STYLE ----------------
const panels = [
  {g:[80,62.7,299.6,173.3], x:[-0.037,1.002], y:[-8.56,6.0], xt:xTicks01, xl:xTicks01, xd:1, yt:yTicksA1, yl:yLabelsA1, pts:ptsA1, dense:denseA1, ds:7.5, fit:fitA1, title:titlesA[0], tc:[231,21.8,45.3], stats:statsA[0], sp:[116.7,83.3]},
  {g:[440.6,65.7,300.6,171], x:[-0.04,1.04], y:[-7.47,6.46], xt:xTicks01, xl:xTicks01, xd:1, yt:yTicksA2, yl:yLabelsA2, pts:ptsA2, dense:denseA2, ds:7.5, fit:fitA2, title:titlesA[1], tc:[602,21.8,45.3], stats:statsA[1], sp:[471.7,83.3]},
  {g:[792.3,62,301,175.7], x:[-0.0385,1.0115], y:[-6.9,6.27], xt:xTicks01, xl:xTicks01, xd:1, yt:yTicks64, yl:yTicks64, pts:ptsA3, dense:denseA3, ds:7.5, fit:fitA3, title:titlesA[2], tc:[954,21.8,45.3], stats:statsA[2], sp:[828.3,93.3]},
  {g:[80.6,359.3,298.7,173.4], x:[-0.036,1.0], y:[-7.46,5.55], xt:xTicks01, xl:xTicks01, xd:1, yt:yTicks64, yl:yTicks64, pts:ptsB1, dense:denseB1, ds:5.2, title:titlesB[0], tc:[229.5,319.5,343], stats:statsB[0], sp:[120,386.7]},
  {g:[439.3,360.7,301.5,171.6], x:[-0.012,1.04], y:[-7.54,4.87], xt:xTicks01, xl:xTicks01, xd:1, yt:yTicks64, yl:yTicks64, pts:ptsB2, title:titlesB[1], tc:[588.5,319.5,343], stats:statsB[1], sp:[472.3,381.2]},
  {g:[795.7,360,301.1,173.3], x:[-0.0385,1.012], y:[-6.94,6.05], xt:xTicks01, xl:xTicks01, xd:1, yt:yTicks64, yl:yTicks64, pts:ptsB3, dense:denseB3, ds:5.2, title:titlesB[2], tc:[949.5,319.5,343], stats:statsB[2], sp:[820.7,385.5]},
  {g:[86,674,301,172], x:[0.0443,0.2037], y:[-6.31,1.23], xt:xTicksLow, xl:xTicksLow, xd:2, yt:yTicksC1, yl:yLabelsC1, pts:ptsC1, title:titlesC[0], tc:[233,632,655.5], stats:statsC[0], sp:[135,693.7], red:'#f2221f'},
  {g:[438.3,677.3,300.7,171.7], x:[0.071,0.886], y:[-7.44,4.91], xt:xTicksC2, xl:xTicksC2, xd:1, yt:yTicks64, yl:yTicks64, pts:ptsC2, title:titlesC[1], tc:[595,632,655.5], stats:statsC[1], sp:[481.7,697.5]},
  {g:[792.3,674,300,172.7], x:[0.0441,0.2048], y:[-6.335,2.3], xt:xTicksLow, xl:xTicksLow, xd:2, yt:yTicksC3, yl:yTicksC3, pts:ptsC3, title:titlesC[2], tc:[951.5,632,655.5], stats:statsC[2], sp:[814.3,704.2]}
];

const FONT = '"Liberation Sans", Arial, Helvetica, sans-serif';
const pointColor = 'rgba(6,28,92,0.68)';
const denseColor = 'rgba(4,24,80,0.72)';
const textRed = '#e2331d';
const axisColor = '#2a2a2a';

const grid = [], xAxis = [], yAxis = [], series = [], graphic = [];
panels.forEach((p, i) => {
  grid.push({left:p.g[0], top:p.g[1], width:p.g[2], height:p.g[3], show:true, borderColor:'#3c3c3c', borderWidth:1, backgroundColor:'transparent'});
  xAxis.push({type:'value', gridIndex:i, min:p.x[0], max:p.x[1], splitLine:{show:false},
    axisLine:{show:false, onZero:false},
    axisTick:{show:true, inside:false, length:7, lineStyle:{color:axisColor, width:1}, customValues:p.xt},
    axisLabel:{customValues:p.xl, formatter:(v)=>Number(v).toFixed(p.xd), margin:18, fontSize:14, color:'#1a1a1a', fontFamily:FONT, showMinLabel:true, showMaxLabel:true}});
  yAxis.push({type:'value', gridIndex:i, min:p.y[0], max:p.y[1], splitLine:{show:false},
    axisLine:{show:false, onZero:false},
    axisTick:{show:true, inside:false, length:7, lineStyle:{color:axisColor, width:1}, customValues:p.yt},
    axisLabel:{customValues:p.yl, formatter:(v)=>String(Math.round(v)), rotate:90, margin:15, fontSize:14, color:'#1a1a1a', fontFamily:FONT, showMinLabel:true, showMaxLabel:true}});
  series.push({type:'scatter', xAxisIndex:i, yAxisIndex:i, data:p.pts, symbol:'circle', symbolSize:5.2, itemStyle:{color:pointColor, borderWidth:0}, silent:true, animation:false, z:2});
  if (p.dense) series.push({type:'scatter', xAxisIndex:i, yAxisIndex:i, data:p.dense, symbol:'circle', symbolSize:p.ds, itemStyle:{color:p.ds > 6 ? denseColor : pointColor, borderWidth:0}, silent:true, animation:false, z:2});
  if (p.fit) series.push({type:'line', xAxisIndex:i, yAxisIndex:i, data:p.fit, smooth:true, showSymbol:false, symbol:'none', lineStyle:{color:'#ff1414', width:1.2}, silent:true, animation:false, z:3});
  graphic.push({type:'text', x:p.tc[0], y:p.tc[1], style:{text:p.title[0], font:'19.7px '+FONT, fill:'#111', align:'center', verticalAlign:'middle'}});
  graphic.push({type:'text', x:p.tc[0], y:p.tc[2], style:{text:p.title[1], font:'19.7px '+FONT, fill:'#111', align:'center', verticalAlign:'middle'}});
  p.stats.forEach((s, k) => {
    graphic.push({type:'text', x:p.sp[0], y:p.sp[1] + k*23.8, z:10, style:{text:s, font:'20px '+FONT, fill:p.red || textRed, align:'left', verticalAlign:'middle'}});
  });
});
series.push({type:'scatter', xAxisIndex:6, yAxisIndex:6, data:ptsC1Highlight, symbolSize:5, itemStyle:{color:'rgba(235,110,90,0.85)'}, silent:true, animation:false, z:4});

[['a',33,18.8],['b',33,310.5],['c',33,605.8]].forEach(l => graphic.push({type:'text', x:l[1], y:l[2], style:{text:l[0], font:'bold 22px '+FONT, fill:'#000', align:'left', verticalAlign:'middle'}}));
graphic.push({type:'line', shape:{x1:14.5, y1:913.5, x2:14.5, y2:474}, style:{stroke:'#000', lineWidth:1}});
graphic.push({type:'polygon', shape:{points:[[14.5,466.5],[11,476],[18,476]]}, style:{fill:'#000'}});
graphic.push({type:'line', shape:{x1:14.5, y1:913.5, x2:376, y2:913.5}, style:{stroke:'#000', lineWidth:1}});
graphic.push({type:'polygon', shape:{points:[[384,913.5],[374.5,910],[374.5,917]]}, style:{fill:'#000'}});
graphic.push({type:'text', x:413, y:915, style:{text:'Promoter CGI methylation level', font:'23px '+FONT, fill:'#111', align:'left', verticalAlign:'middle'}});
graphic.push({type:'text', x:16.7, y:386, rotation:Math.PI/2, style:{text:'Expression', font:'23px '+FONT, fill:'#111', align:'center', verticalAlign:'middle'}});

const chart = echarts.init(document.getElementById('c'), null, {renderer:'canvas', width:1123, height:933});
chart.setOption({animation:false, backgroundColor:'#fff', grid, xAxis, yAxis, series, graphic});
</script></body></html>
